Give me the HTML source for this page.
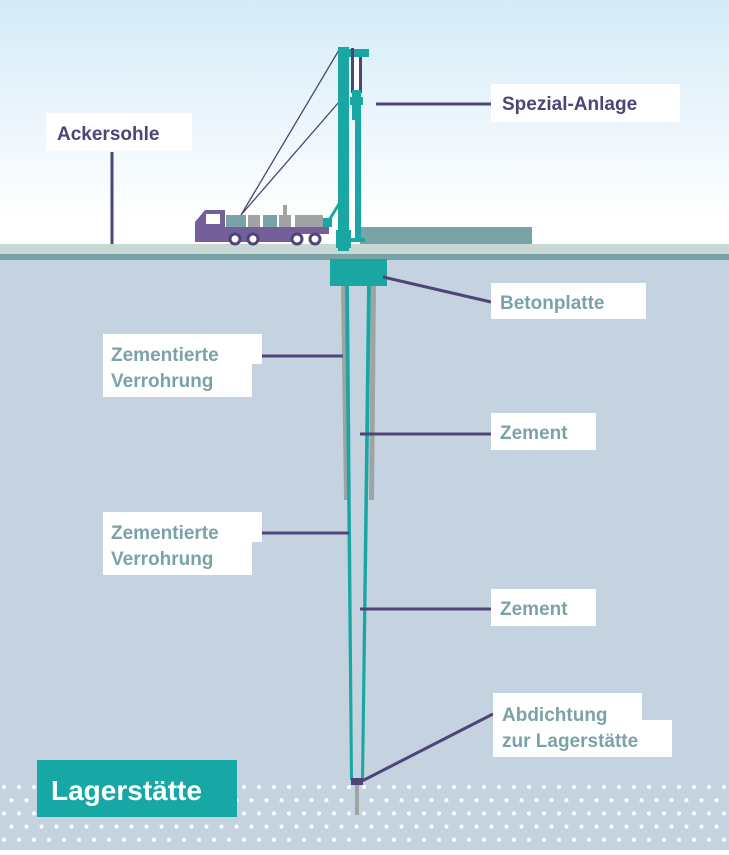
<!DOCTYPE html>
<html><head><meta charset="utf-8"><style>
html,body{margin:0;padding:0}
body{width:729px;height:850px;overflow:hidden}
text{font-family:"Liberation Sans",sans-serif;font-weight:bold}
</style></head><body>
<svg width="729" height="850" viewBox="0 0 729 850" xmlns="http://www.w3.org/2000/svg">
<defs>
<linearGradient id="sky" x1="0" y1="0" x2="0" y2="1">
<stop offset="0" stop-color="#d4ebf8"/><stop offset="0.88" stop-color="#ffffff"/><stop offset="1" stop-color="#ffffff"/>
</linearGradient>
<pattern id="dots" x="0" y="787" width="15" height="26.4" patternUnits="userSpaceOnUse">
<circle cx="4" cy="0" r="2" fill="#fff"/><circle cx="11.5" cy="13.2" r="2" fill="#fff"/><circle cx="4" cy="26.4" r="2" fill="#fff"/>
</pattern>
</defs>
<rect width="729" height="250" fill="url(#sky)"/>
<rect y="244" width="729" height="10" fill="#c9d7d5"/>
<rect y="254" width="729" height="6" fill="#7aa3a8"/>
<rect y="260" width="729" height="590" fill="#c5d3e1"/>
<rect y="785" width="729" height="65" fill="url(#dots)"/>

<rect x="360" y="227" width="172" height="17" fill="#7aa3a8"/>
<line x1="241" y1="215" x2="339" y2="50" stroke="#4d4577" stroke-width="1.3"/>
<line x1="241" y1="215" x2="339" y2="102" stroke="#4d4577" stroke-width="1.3"/>
<path d="M195 242 L195 222 L205 210 L225 210 L225 227 L329 227 L329 234 L300 234 L300 242 Z" fill="#745f9a"/>
<rect x="206" y="214" width="14" height="10" fill="#fff"/>
<rect x="226" y="215" width="20" height="12" fill="#7aa3a8"/>
<rect x="248" y="215" width="12" height="12" fill="#9fa3a3"/>
<rect x="263" y="215" width="14" height="12" fill="#7aa3a8"/>
<rect x="279" y="215" width="12" height="12" fill="#9fa3a3"/>
<rect x="283" y="205" width="4" height="10" fill="#9fa3a3"/>
<rect x="295" y="215" width="28" height="12" fill="#9fa3a3"/>
<rect x="323" y="218" width="9" height="9" fill="#1aa7a4"/>
<line x1="328" y1="222" x2="339" y2="204" stroke="#1aa7a4" stroke-width="3"/>
<g fill="#fff" stroke="#4d4577" stroke-width="3">
<circle cx="235" cy="239" r="5"/><circle cx="253" cy="239" r="5"/><circle cx="297" cy="239" r="5"/><circle cx="315" cy="239" r="5"/>
</g>
<rect x="338" y="47" width="11" height="204" fill="#1aa7a4"/>
<rect x="336" y="230" width="15" height="18" fill="#1aa7a4"/>
<rect x="338" y="49" width="31" height="8" fill="#1aa7a4"/>
<rect x="351" y="48" width="3" height="45" fill="#4d4577"/>
<rect x="354" y="57" width="5" height="36" fill="#fff"/>
<rect x="359" y="57" width="3" height="36" fill="#4d4577"/>
<rect x="352" y="90" width="9" height="8" fill="#1aa7a4"/>
<rect x="350" y="97" width="13" height="8" fill="#1aa7a4"/>
<rect x="352" y="105" width="9" height="15" fill="#1aa7a4"/>
<rect x="355" y="118" width="6" height="120" fill="#1aa7a4"/>
<rect x="349" y="238" width="16" height="4" fill="#1aa7a4"/>
<rect x="330" y="259" width="57" height="27" fill="#1aa7a4"/>
<polygon points="341,286 346,286 348,500 344,500" fill="#9fa3a3"/>
<polygon points="371,286 376,286 374,500 369,500" fill="#9fa3a3"/>
<polygon points="345,286 349,286 353,780 350,780" fill="#1aa7a4"/>
<polygon points="367,286 371,286 364,780 361,780" fill="#1aa7a4"/>
<rect x="355" y="785" width="4" height="30" fill="#9fa3a3"/>
<rect x="351" y="778" width="12" height="7" fill="#4d4577"/>

<g stroke="#4d4577" stroke-width="3" fill="none">
<line x1="376" y1="104" x2="491" y2="104"/>
<line x1="112" y1="152" x2="112" y2="244"/>
<line x1="383" y1="277" x2="491" y2="302"/>
<line x1="262" y1="356" x2="343" y2="356"/>
<line x1="360" y1="434" x2="491" y2="434"/>
<line x1="262" y1="533" x2="349" y2="533"/>
<line x1="360" y1="609" x2="491" y2="609"/>
<line x1="362" y1="781" x2="493" y2="714"/>
</g>

<g fill="#fff">
<rect x="491" y="84" width="189" height="38"/>
<rect x="46" y="113" width="146" height="38"/>
<rect x="491" y="283" width="155" height="36"/>
<rect x="103" y="334" width="159" height="30"/><rect x="103" y="364" width="149" height="33"/>
<rect x="491" y="413" width="105" height="37"/>
<rect x="103" y="512" width="159" height="30"/><rect x="103" y="542" width="149" height="33"/>
<rect x="491" y="589" width="105" height="37"/>
<rect x="493" y="693" width="149" height="28"/><rect x="493" y="720" width="179" height="37"/>
</g>
<rect x="37" y="760" width="200" height="57" fill="#17a8a5"/>
<g font-size="19">
<text x="502" y="110" fill="#4d4577">Spezial-Anlage</text>
<text x="57" y="140" fill="#4d4577">Ackersohle</text>
</g>
<g font-size="19" fill="#7aa3a8">
<text x="500" y="309">Betonplatte</text>
<text x="111" y="361">Zementierte</text>
<text x="111" y="387">Verrohrung</text>
<text x="500" y="439">Zement</text>
<text x="111" y="539">Zementierte</text>
<text x="111" y="565">Verrohrung</text>
<text x="500" y="615">Zement</text>
<text x="502" y="721">Abdichtung</text>
<text x="502" y="747">zur Lagerstätte</text>
</g>
<text x="51" y="800" font-size="28" fill="#fff">Lagerstätte</text>
</svg>
</body></html>
